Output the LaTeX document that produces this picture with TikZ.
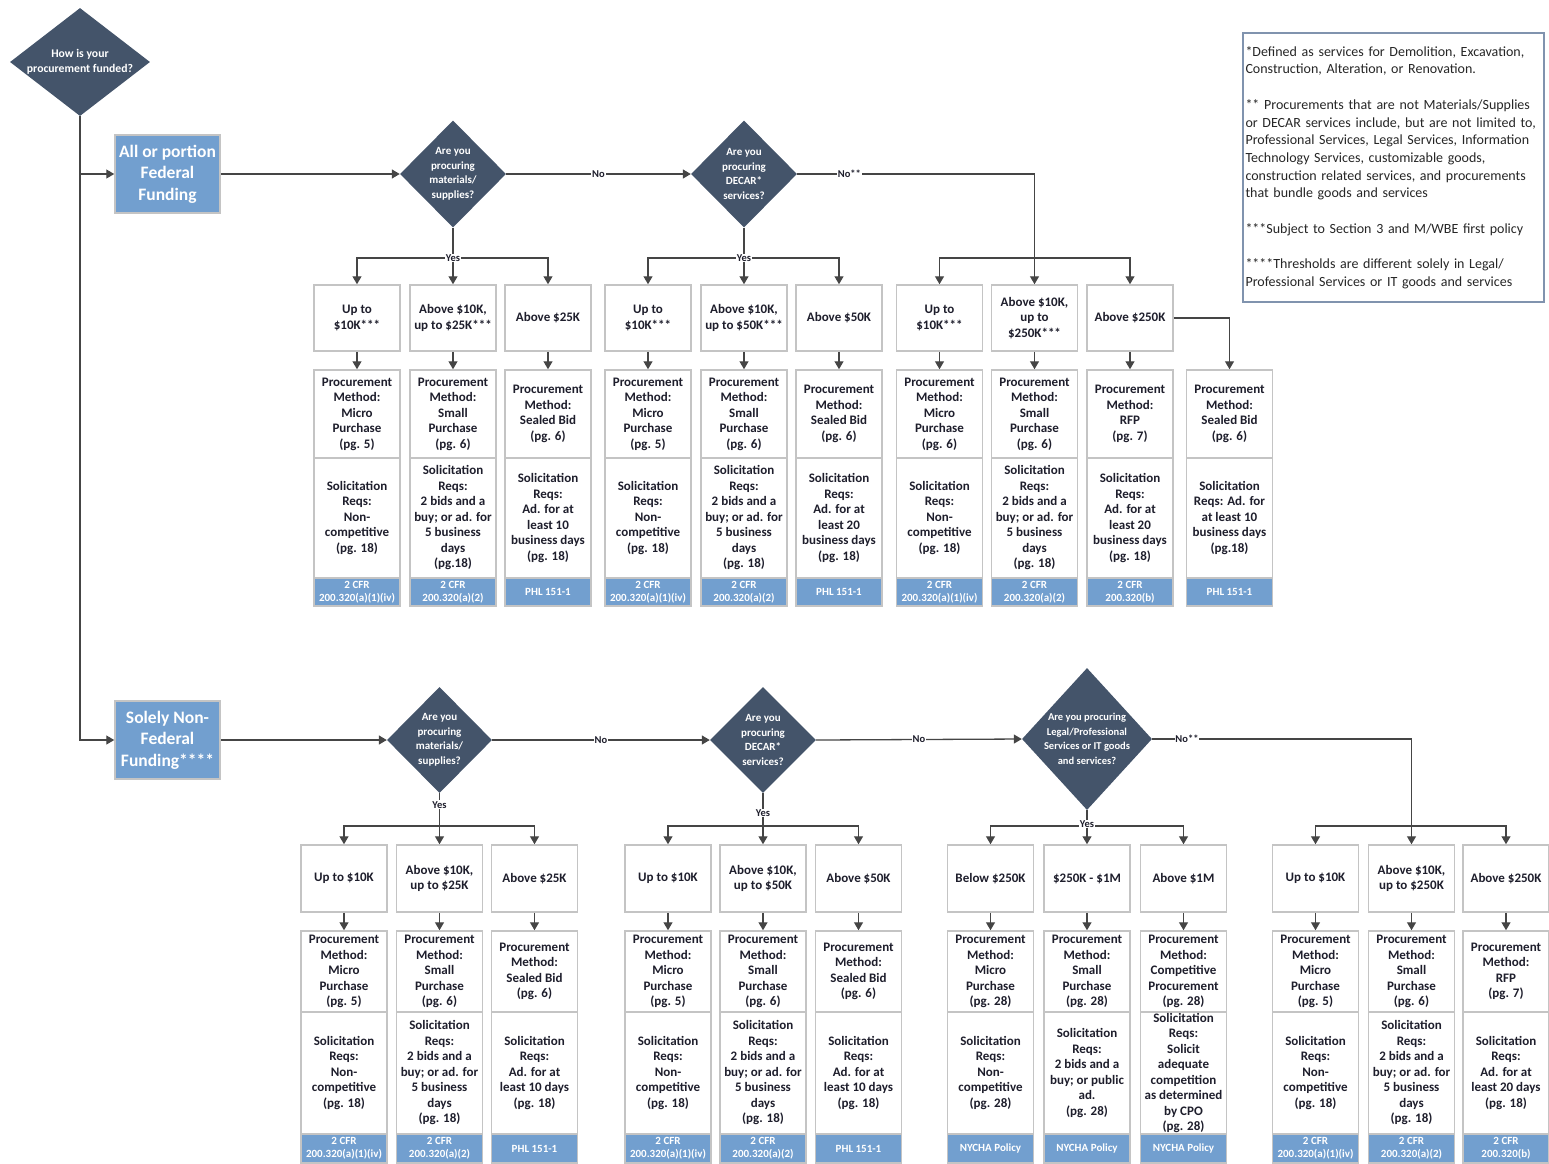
\documentclass[tikz,border=0pt]{standalone}
\usepackage{fontspec}
\setmainfont{Carlito}
\usetikzlibrary{shapes.geometric,arrows.meta}

\definecolor{qslate}{HTML}{44546A}
\definecolor{fundblue}{HTML}{729FCF}
\definecolor{edgegray}{HTML}{C4C4C4}
\definecolor{wiregray}{HTML}{454545}
\definecolor{noteedge}{HTML}{8093AE}
\definecolor{inkdark}{HTML}{1E1E2C}

\tikzset{
  decision/.style={diamond, fill=qslate, inner sep=0pt},
  qtext/.style={text=white, align=center, font=\fontsize{11}{14.5}\selectfont\bfseries},
  fundbox/.style={rectangle, fill=fundblue, draw=edgegray, line width=1.5pt, text=white, align=center,
    minimum width=105, minimum height=78, inner sep=1pt, font=\fontsize{17.5}{21.5}\selectfont\bfseries},
  cell/.style={rectangle, fill=white, draw=edgegray, line width=1.5pt, text=inkdark, align=center,
    minimum width=86, inner xsep=1pt, inner ysep=1pt, font=\fontsize{13}{15.5}\selectfont\bfseries},
  citebox/.style={rectangle, fill=fundblue, draw=edgegray, line width=1.5pt, text=white, align=center,
    minimum width=86, inner sep=0pt, font=\fontsize{11}{13}\selectfont\bfseries},
  trange/.style={cell, minimum height=66},
  tmeth/.style={cell, minimum height=88},
  tsoli/.style={cell, minimum height=120},
  tcite/.style={citebox, minimum height=28},
  brange/.style={cell, minimum height=67},
  bmeth/.style={cell, minimum height=81},
  bsoli/.style={cell, minimum height=122},
  bcite/.style={citebox, minimum height=29},
  conn/.style={draw=wiregray, line width=1.3pt, -{Triangle[length=8pt,width=9pt]}},
  wire/.style={draw=wiregray, line width=1.3pt},
  answer/.style={fill=white, inner sep=0.8pt, text=inkdark, font=\fontsize{10.5}{12}\selectfont\bfseries},
  note/.style={rectangle, draw=noteedge, line width=2.2pt, fill=white, text=black!85, align=left,
    text width=296, minimum height=269, inner xsep=2.5pt, inner ysep=1pt, font=\fontsize{14}{17.7}\selectfont},
}

\begin{document}
\begin{tikzpicture}[x=1pt,y=-1pt]
\useasboundingbox (0,0) rectangle (1549,1163);

% funding question
\node[decision, minimum width=140, minimum height=108,
  label={[qtext, font=\fontsize{11.7}{14.5}\selectfont\bfseries]center:How is your\\procurement funded?}] (d0) at (80,62) {};
\node[fundbox] (fed) at (167.5,174) {All or portion\\Federal\\Funding};
\node[fundbox] (nonfed) at (167.5,740) {Solely Non-\\Federal\\Funding****};
\draw[conn] (d0.south) |- (fed.west);
\draw[conn] (d0.south) |- (nonfed.west);

% federal branch
\node[decision, minimum width=106, minimum height=107,
  label={[qtext]center:Are you\\procuring\\materials/\\supplies?}] (d1) at (453,174) {};
\node[decision, minimum width=106, minimum height=107,
  label={[qtext]center:Are you\\procuring\\DECAR*\\services?}] (d2) at (744,174) {};

\foreach \i/\x/\rtext/\mtext/\stext/\ctext in
{1/357/{Up to\\\$10K***}/{Procurement\\Method:\\Micro\\Purchase\\(pg. 5)}/{Solicitation\\Reqs:\\Non-\\competitive\\(pg. 18)}/{2 CFR\\200.320(a)(1)(iv)},
 2/453/{Above \$10K,\\up to \$25K***}/{Procurement\\Method:\\Small\\Purchase\\(pg. 6)}/{Solicitation\\Reqs:\\2 bids and a\\buy; or ad. for\\5 business\\days\\(pg.18)}/{2 CFR\\200.320(a)(2)},
 3/548/{Above \$25K}/{Procurement\\Method:\\Sealed Bid\\(pg. 6)}/{Solicitation\\Reqs:\\Ad. for at\\least 10\\business days\\(pg. 18)}/{PHL 151-1},
 4/648/{Up to\\\$10K***}/{Procurement\\Method:\\Micro\\Purchase\\(pg. 5)}/{Solicitation\\Reqs:\\Non-\\competitive\\(pg. 18)}/{2 CFR\\200.320(a)(1)(iv)},
 5/744/{Above \$10K,\\up to \$50K***}/{Procurement\\Method:\\Small\\Purchase\\(pg. 6)}/{Solicitation\\Reqs:\\2 bids and a\\buy; or ad. for\\5 business\\days\\(pg. 18)}/{2 CFR\\200.320(a)(2)},
 6/839/{Above \$50K}/{Procurement\\Method:\\Sealed Bid\\(pg. 6)}/{Solicitation\\Reqs:\\Ad. for at\\least 20\\business days\\(pg. 18)}/{PHL 151-1},
 7/939.5/{Up to\\\$10K***}/{Procurement\\Method:\\Micro\\Purchase\\(pg. 6)}/{Solicitation\\Reqs:\\Non-\\competitive\\(pg. 18)}/{2 CFR\\200.320(a)(1)(iv)},
 8/1034.5/{Above \$10K,\\up to\\\$250K***}/{Procurement\\Method:\\Small\\Purchase\\(pg. 6)}/{Solicitation\\Reqs:\\2 bids and a\\buy; or ad. for\\5 business\\days\\(pg. 18)}/{2 CFR\\200.320(a)(2)},
 9/1130/{Above \$250K}/{Procurement\\Method:\\RFP\\(pg. 7)}/{Solicitation\\Reqs:\\Ad. for at\\least 20\\business days\\(pg. 18)}/{2 CFR\\200.320(b)}}
{
  \node[trange] (tr\i) at (\x,318) {\rtext};
  \node[tmeth] (tm\i) at (\x,414) {\mtext};
  \node[tsoli] (ts\i) at (\x,518) {\stext};
  \node[tcite] (tc\i) at (\x,592) {\ctext};
  \draw[conn] (tr\i) -- (tm\i);
}
\node[tmeth] (tm10) at (1229.5,414) {Procurement\\Method:\\Sealed Bid\\(pg. 6)};
\node[tsoli] (ts10) at (1229.5,518) {Solicitation\\Reqs: Ad. for\\at least 10\\business days\\(pg.18)};
\node[tcite] (tc10) at (1229.5,592) {PHL 151-1};
\draw[conn] (tr9.east) -| (tm10.north);

\coordinate (tj1) at (453,258);
\coordinate (tj2) at (744,258);
\coordinate (tj3) at (1034.5,258);
\draw[conn] (fed.east) -- (d1.west);
\draw[conn] (d1.east) -- node[answer]{No} (d2.west);
\foreach \a/\b/\c in {tj1/tr1/tr3, tj2/tr4/tr6, tj3/tr7/tr9}
{
  \draw[conn] (\a) -| (\b.north);
  \draw[conn] (\a) -| (\c.north);
}
\draw[conn] (tj1) -- (tr2.north);
\draw[conn] (tj2) -- (tr5.north);
\draw[conn] (tj3) -- (tr8.north);
\draw[wire] (d1.south) -- (tj1) node[answer]{Yes};
\draw[wire] (d2.south) -- (tj2) node[answer]{Yes};
\draw[wire] (d2.east) -| node[answer, pos=0.11]{No**} (tj3);

% non-federal branch
\node[decision, minimum width=105, minimum height=106,
  label={[qtext]center:Are you\\procuring\\materials/\\supplies?}] (d3) at (439.5,740) {};
\node[decision, minimum width=106, minimum height=106,
  label={[qtext]center:Are you\\procuring\\DECAR*\\services?}] (d4) at (763,740) {};
\node[decision, minimum width=130, minimum height=142,
  label={[qtext, font=\fontsize{10.5}{14.5}\selectfont\bfseries]center:Are you procuring\\Legal/Professional\\Services or IT goods\\and services?}] (d5) at (1087,739) {};

\foreach \i/\x/\rtext/\mtext/\stext/\ctext in
{1/344/{Up to \$10K}/{Procurement\\Method:\\Micro\\Purchase\\(pg. 5)}/{Solicitation\\Reqs:\\Non-\\competitive\\(pg. 18)}/{2 CFR\\200.320(a)(1)(iv)},
 2/439.5/{Above \$10K,\\up to \$25K}/{Procurement\\Method:\\Small\\Purchase\\(pg. 6)}/{Solicitation\\Reqs:\\2 bids and a\\buy; or ad. for\\5 business\\days\\(pg. 18)}/{2 CFR\\200.320(a)(2)},
 3/534.5/{Above \$25K}/{Procurement\\Method:\\Sealed Bid\\(pg. 6)}/{Solicitation\\Reqs:\\Ad. for at\\least 10 days\\(pg. 18)}/{PHL 151-1},
 4/668/{Up to \$10K}/{Procurement\\Method:\\Micro\\Purchase\\(pg. 5)}/{Solicitation\\Reqs:\\Non-\\competitive\\(pg. 18)}/{2 CFR\\200.320(a)(1)(iv)},
 5/763/{Above \$10K,\\up to \$50K}/{Procurement\\Method:\\Small\\Purchase\\(pg. 6)}/{Solicitation\\Reqs:\\2 bids and a\\buy; or ad. for\\5 business\\days\\(pg. 18)}/{2 CFR\\200.320(a)(2)},
 6/858.5/{Above \$50K}/{Procurement\\Method:\\Sealed Bid\\(pg. 6)}/{Solicitation\\Reqs:\\Ad. for at\\least 10 days\\(pg. 18)}/{PHL 151-1},
 7/990.5/{Below \$250K}/{Procurement\\Method:\\Micro\\Purchase\\(pg. 28)}/{Solicitation\\Reqs:\\Non-\\competitive\\(pg. 28)}/{NYCHA Policy},
 8/1087/{\$250K - \$1M}/{Procurement\\Method:\\Small\\Purchase\\(pg. 28)}/{Solicitation\\Reqs:\\2 bids and a\\buy; or public\\ad.\\(pg. 28)}/{NYCHA Policy},
 9/1183.5/{Above \$1M}/{Procurement\\Method:\\Competitive\\Procurement\\(pg. 28)}/{Solicitation\\Reqs:\\Solicit\\adequate\\competition\\as determined\\by CPO\\(pg. 28)}/{NYCHA Policy},
 10/1315.5/{Up to \$10K}/{Procurement\\Method:\\Micro\\Purchase\\(pg. 5)}/{Solicitation\\Reqs:\\Non-\\competitive\\(pg. 18)}/{2 CFR\\200.320(a)(1)(iv)},
 11/1411.5/{Above \$10K,\\up to \$250K}/{Procurement\\Method:\\Small\\Purchase\\(pg. 6)}/{Solicitation\\Reqs:\\2 bids and a\\buy; or ad. for\\5 business\\days\\(pg. 18)}/{2 CFR\\200.320(a)(2)},
 12/1506/{Above \$250K}/{Procurement\\Method:\\RFP\\(pg. 7)}/{Solicitation\\Reqs:\\Ad. for at\\least 20 days\\(pg. 18)}/{2 CFR\\200.320(b)}}
{
  \node[brange] (br\i) at (\x,878.5) {\rtext};
  \node[bmeth] (bm\i) at (\x,971.5) {\mtext};
  \node[bsoli] (bs\i) at (\x,1073) {\stext};
  \node[bcite] (bc\i) at (\x,1148.5) {\ctext};
  \draw[conn] (br\i) -- (bm\i);
}

\coordinate (bj1) at (439.5,826);
\coordinate (bj2) at (763,826);
\coordinate (bj3) at (1087,826);
\coordinate (bj4) at (1411.5,826);
\draw[conn] (nonfed.east) -- (d3.west);
\draw[conn] (d3.east) -- node[answer]{No} (d4.west);
\draw[conn] (d4.east) -- node[answer]{No} (d5.west);
\foreach \a/\b/\c in {bj1/br1/br3, bj2/br4/br6, bj3/br7/br9, bj4/br10/br12}
{
  \draw[conn] (\a) -| (\b.north);
  \draw[conn] (\a) -| (\c.north);
}
\draw[conn] (bj1) -- (br2.north);
\draw[conn] (bj2) -- (br5.north);
\draw[conn] (bj3) -- (br8.north);
\draw[conn] (bj4) -- (br11.north);
\draw[wire] (d3.south) -- node[answer, pos=0.35]{Yes} (bj1);
\draw[wire] (d4.south) -- node[answer, pos=0.6]{Yes} (bj2);
\draw[wire] (d5.south) -- (bj3) node[answer, yshift=2pt]{Yes};
\draw[wire] (d5.east) -| node[answer, pos=0.067]{No**} (bj4);

% footnotes
\node[note] (legend) at (1393.5,167.5) {*Defined as services for Demolition, Excavation,\\
Construction, Alteration, or Renovation.\\[17.7pt]
** Procurements that are not Materials/Supplies\\
or DECAR services include, but are not limited to,\\
Professional Services, Legal Services, Information\\
Technology Services, customizable goods,\\
construction related services, and procurements\\
that bundle goods and services\\[17.7pt]
***Subject to Section 3 and M/WBE first policy\\[17.7pt]
****Thresholds are different solely in Legal/\\
Professional Services or IT goods and services};

\end{tikzpicture}
\end{document}
